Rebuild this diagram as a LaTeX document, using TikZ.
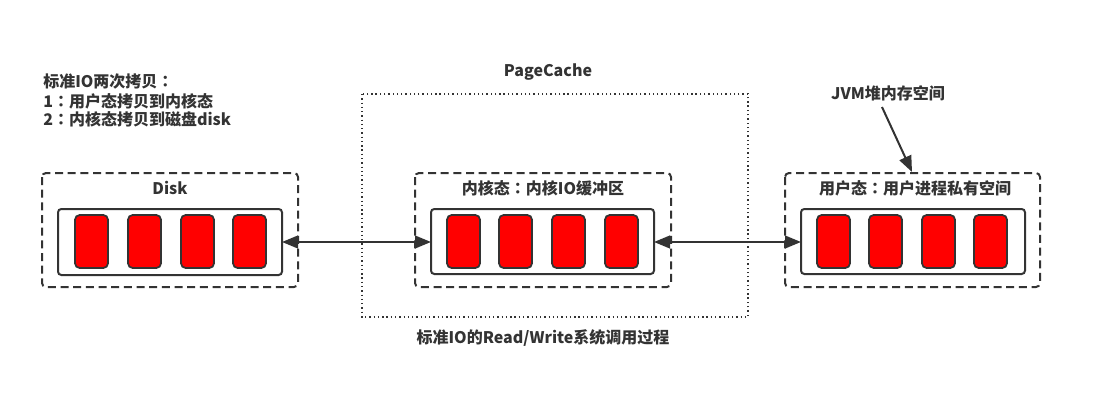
\documentclass[tikz,border=0pt]{standalone}
\usepackage{fontspec}
\setmainfont{Noto Sans CJK SC}
\newfontfamily\tcfont{Noto Sans CJK TC}
\newcommand{\cc}{{\tcfont\bfseries ：}}
\usetikzlibrary{arrows.meta}
\definecolor{ink}{HTML}{333333}
\definecolor{blockred}{HTML}{FF0000}
\begin{document}
\begin{tikzpicture}[x=0.75pt,y=-0.75pt,
  lbl/.style={font=\fontsize{12pt}{14pt}\selectfont\bfseries, text=ink, inner sep=0pt},
  outerbox/.style={draw=ink, line width=1.5pt, dash pattern=on 6pt off 3.5pt, rounded corners=3pt},
  cachebox/.style={draw=ink, line width=1.4pt, dash pattern=on 1pt off 2.2pt},
  innerbox/.style={draw=ink, line width=1.5pt, rounded corners=2.5pt, fill=white},
  blk/.style={draw=ink, line width=1.3pt, fill=blockred, rounded corners=3.5pt},
  conn/.style={draw=ink, line width=1.5pt, {Triangle[length=12pt,width=9.5pt]}-{Triangle[length=12pt,width=9.5pt]}},
  pointer/.style={draw=ink, line width=1.5pt, -{Triangle[length=12pt,width=9.5pt]}}
]
\useasboundingbox (0,0) rectangle (1101,411);

% PageCache dotted frame
\draw[cachebox] (362,94) rectangle (748,317);
\node[lbl] (pclabel) at (548,72) {PageCache};
\node[lbl] (caption) at (543,338) {标准IO的Read/Write系统调用过程};

% Notes
\node[lbl, anchor=west] (note1) at (43,82) {标准IO两次拷贝\cc};
\node[lbl, anchor=west] (note2) at (43,101) {1\cc 用户态拷贝到内核态};
\node[lbl, anchor=west] (note3) at (43,119) {2\cc 内核态拷贝到磁盘disk};

% Disk
\draw[outerbox] (42,173) rectangle (298,287);
\node[lbl] (disklabel) at (170,188) {Disk};
\draw[innerbox] (58,209) rectangle (282,275);
\coordinate (diskR) at (282,242);
\foreach \x in {75,128,181,233}
  \draw[blk] (\x,215) rectangle ++(33,53);

% Kernel
\draw[outerbox] (415,173) rectangle (671,287);
\node[lbl] (kernlabel) at (543,188) {内核态\cc 内核IO缓冲区};
\draw[innerbox] (431,209) rectangle (654,274);
\coordinate (kernL) at (431,242);
\coordinate (kernR) at (654,242);
\foreach \x in {447,499,552,605}
  \draw[blk] (\x,215) rectangle ++(33,53);

% User
\draw[outerbox] (785,173) rectangle (1040,287);
\node[lbl] (userlabel) at (915,188) {用户态\cc 用户进程私有空间};
\draw[innerbox] (801,209) rectangle (1025,274);
\coordinate (userL) at (801,242);
\coordinate (userTop) at (912,172);
\foreach \x in {817,869,922,974}
  \draw[blk] (\x,215) rectangle ++(33,53);

% JVM label
\node[lbl] (jvm) at (888,93) {JVM堆内存空间};
\coordinate (jvmS) at (882,107);

% connectors
\draw[conn] (diskR) -- (kernL);
\draw[conn] (kernR) -- (userL);
\draw[pointer] (jvmS) -- (userTop);
\end{tikzpicture}
\end{document}
